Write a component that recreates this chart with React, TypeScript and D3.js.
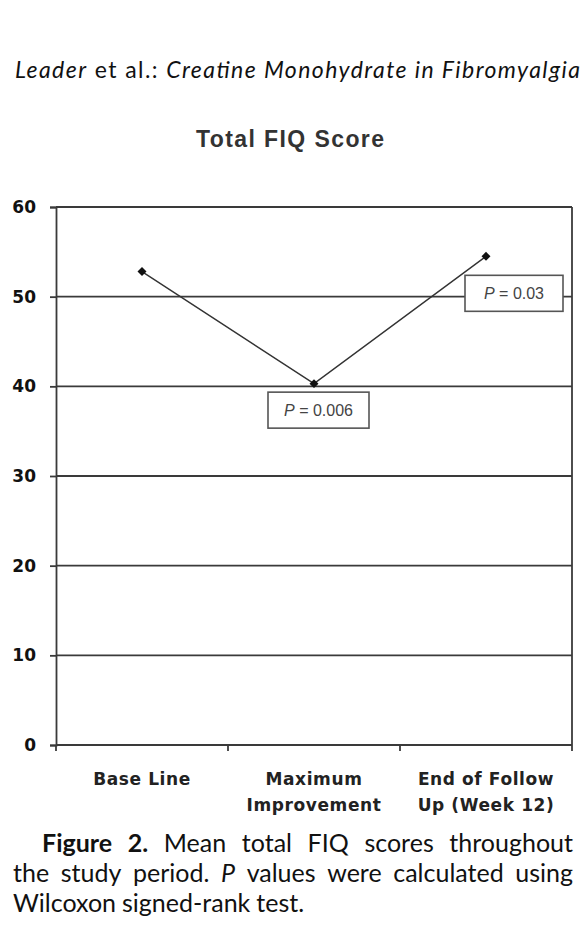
import React, { useEffect, useRef } from 'react';
import * as d3 from 'd3';

const categoryLines = [['Base Line'], ['Maximum', 'Improvement'], ['End of Follow', 'Up (Week 12)']];
const values = [52.8, 40.3, 54.5];
const yTicks = [0, 10, 20, 30, 40, 50, 60];
const pLabels = ['', '0.006', '0.03'];

const W = 585;
const H = 929;

const App = () => {
  const ref = useRef<SVGSVGElement>(null);

  useEffect(() => {
    if (!ref.current) return;
    const svg = d3.select(ref.current);
    svg.selectAll('*').remove();

    const margin = { left: 56, right: 13, top: 207, bottom: 184 };
    const x = d3
      .scaleBand<number>()
      .domain(d3.range(values.length))
      .range([margin.left, W - margin.right]);
    const y = d3.scaleLinear().domain([0, 60]).range([H - margin.bottom, margin.top]);
    const cx = (i: number) => (x(i) || 0) + x.bandwidth() / 2;

    svg.append('rect').attr('width', W).attr('height', H).attr('fill', '#fff');

    // running header
    const head = svg
      .append('text')
      .attr('x', 15)
      .attr('y', 78)
      .attr('font-family', 'Lato, sans-serif')
      .attr('font-size', 23)
      .attr('textLength', 565)
      .attr('lengthAdjust', 'spacing')
      .attr('fill', '#111');
    head.append('tspan').attr('font-style', 'italic').text('Leader');
    head.append('tspan').text(' et al.: ');
    head.append('tspan').attr('font-style', 'italic').text('Creatine Monohydrate in Fibromyalgia');

    // title
    svg
      .append('text')
      .attr('x', 196)
      .attr('y', 147)
      .attr('font-family', 'Liberation Sans, Arial, sans-serif')
      .attr('font-weight', 'bold')
      .attr('font-size', 23)
      .attr('textLength', 188)
      .attr('lengthAdjust', 'spacing')
      .attr('fill', '#333')
      .text('Total FIQ Score');

    // grid
    const grid = svg.append('g').attr('stroke', '#3a3a3a').attr('stroke-width', 1.8);
    grid
      .selectAll('line.h')
      .data(yTicks)
      .join('line')
      .attr('class', 'h')
      .attr('x1', margin.left)
      .attr('x2', W - margin.right)
      .attr('y1', (d) => y(d))
      .attr('y2', (d) => y(d));
    grid
      .append('line')
      .attr('x1', W - margin.right)
      .attr('x2', W - margin.right)
      .attr('y1', y(60))
      .attr('y2', y(0));

    // y axis
    svg
      .append('g')
      .attr('transform', `translate(${margin.left},0)`)
      .call(d3.axisLeft(y).tickValues(yTicks).tickSize(6).tickPadding(14))
      .call((g) => g.selectAll('line, path').attr('stroke', '#3a3a3a').attr('stroke-width', 1.8))
      .call((g) =>
        g
          .selectAll('text')
          .attr('font-family', 'DejaVu Sans, sans-serif')
          .attr('font-weight', 'bold')
          .attr('font-size', 17)
          .attr('fill', '#111'),
      );

    // x ticks at band edges
    const edges = d3.range(values.length + 1).map((i) => margin.left + i * x.step());
    svg
      .append('g')
      .attr('stroke', '#3a3a3a')
      .attr('stroke-width', 1.8)
      .selectAll('line')
      .data(edges)
      .join('line')
      .attr('x1', (d) => d)
      .attr('x2', (d) => d)
      .attr('y1', y(0))
      .attr('y2', y(0) + 6);

    // x labels
    const xl = svg
      .append('g')
      .attr('font-family', 'DejaVu Sans, sans-serif')
      .attr('font-weight', 'bold')
      .attr('font-size', 17)
      .attr('fill', '#222')
      .attr('text-anchor', 'middle');
    categoryLines.forEach((lines, i) => {
      lines.forEach((t, j) => {
        xl.append('text')
          .attr('x', cx(i))
          .attr('y', y(0) + 40 + j * 26)
          .attr('letter-spacing', 0.6)
          .text(t);
      });
    });

    // line
    const line = d3
      .line<number>()
      .x((_, i) => cx(i))
      .y((d) => y(d));
    svg
      .append('path')
      .datum(values)
      .attr('d', line)
      .attr('fill', 'none')
      .attr('stroke', '#333')
      .attr('stroke-width', 1.4);
    svg
      .append('g')
      .selectAll('path')
      .data(values)
      .join('path')
      .attr('transform', (d, i) => `translate(${cx(i)},${y(d)}) rotate(45)`)
      .attr('d', d3.symbol(d3.symbolSquare, 40))
      .attr('fill', '#111');

    // p value boxes
    const boxW = [0, 101, 98];
    const boxDx = [0, -46, -21];
    const boxDy = [0, 8.5, 19];
    pLabels.forEach((p, i) => {
      if (!p) return;
      const bx = cx(i) + boxDx[i];
      const by = y(values[i]) + boxDy[i];
      const g = svg.append('g');
      g.append('rect')
        .attr('x', bx)
        .attr('y', by)
        .attr('width', boxW[i])
        .attr('height', 36)
        .attr('fill', '#fff')
        .attr('stroke', '#555')
        .attr('stroke-width', 1.6);
      const t = g
        .append('text')
        .attr('x', bx + boxW[i] / 2)
        .attr('y', by + 23.5)
        .attr('text-anchor', 'middle')
        .attr('font-family', 'Liberation Sans, Arial, sans-serif')
        .attr('font-size', 16)
        .attr('fill', '#444');
      t.append('tspan').attr('font-style', 'italic').text('P');
      t.append('tspan').text(` = ${p}`);
    });

    // caption, justified word by word
    type Word = { t: string; w?: string; s?: string };
    const captionLines: { words: Word[]; justify: boolean; y: number; x0: number }[] = [
      {
        words: [
          { t: 'Figure', w: 'bold' },
          { t: '2.', w: 'bold' },
          { t: 'Mean' },
          { t: 'total' },
          { t: 'FIQ' },
          { t: 'scores' },
          { t: 'throughout' },
        ],
        justify: true,
        y: 852,
        x0: 42,
      },
      {
        words: [
          { t: 'the' },
          { t: 'study' },
          { t: 'period.' },
          { t: 'P', s: 'italic' },
          { t: 'values' },
          { t: 'were' },
          { t: 'calculated' },
          { t: 'using' },
        ],
        justify: true,
        y: 882,
        x0: 13,
      },
      {
        words: [{ t: 'Wilcoxon' }, { t: 'signed-rank' }, { t: 'test.' }],
        justify: false,
        y: 912,
        x0: 13,
      },
    ];
    const cap = svg
      .append('g')
      .attr('font-family', 'Lato, sans-serif')
      .attr('font-size', 25)
      .attr('fill', '#111');
    const right = 573;
    captionLines.forEach((ln) => {
      const nodes = ln.words.map((wd) =>
        cap
          .append('text')
          .attr('y', ln.y)
          .attr('font-weight', wd.w || 'normal')
          .attr('font-style', wd.s || 'normal')
          .text(wd.t),
      );
      const widths = nodes.map((n) => (n.node() as SVGTextElement).getComputedTextLength());
      const total = d3.sum(widths);
      const gap = ln.justify ? (right - ln.x0 - total) / (nodes.length - 1) : 6;
      let cur = ln.x0;
      nodes.forEach((n, i) => {
        n.attr('x', cur);
        cur += widths[i] + gap;
      });
    });
  }, []);

  return (
    <svg
      ref={ref}
      width={W}
      height={H}
      style={{ position: 'absolute', left: 0, top: 0, display: 'block' }}
    />
  );
};

export default App;
